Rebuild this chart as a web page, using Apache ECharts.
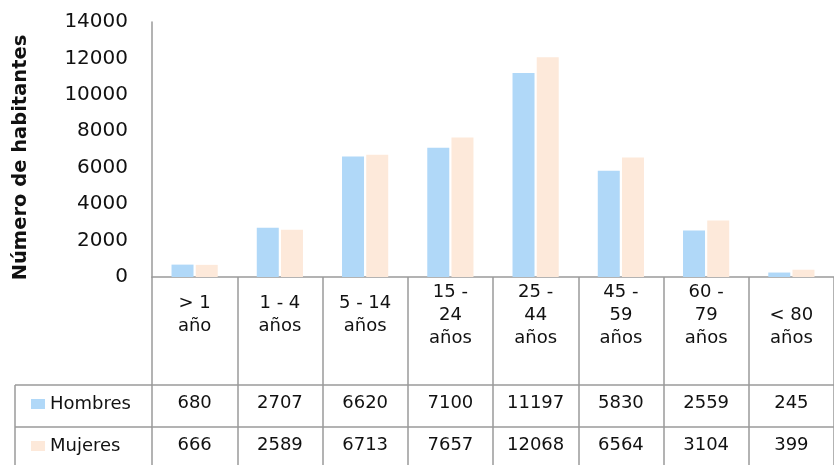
<!DOCTYPE html>
<html>
<head>
<meta charset="utf-8">
<style>
  html, body { margin: 0; padding: 0; background: #fff; }
  #chart { width: 834px; height: 465px; }
</style>
<script src="https://cdn.jsdelivr.net/npm/echarts@6/dist/echarts.min.js"></script>
</head>
<body>
<div id="chart"></div>
<script>
// grupos de edad (cabecera de la tabla)
var categories = ["> 1\naño", "1 - 4\naños", "5 - 14\naños", "15 -\n24\naños", "25 -\n44\naños", "45 -\n59\naños", "60 -\n79\naños", "< 80\naños"];
var hombres = [680, 2707, 6620, 7100, 11197, 5830, 2559, 245];
var mujeres = [666, 2589, 6713, 7657, 12068, 6564, 3104, 399];
var yTicks = [0, 2000, 4000, 6000, 8000, 10000, 12000, 14000];

var font = "DejaVu Sans";
var lineColor = "#9a9a9a";
var textColor = "#111";

var myChart = echarts.init(document.getElementById("chart"));
myChart.setOption({
  animation: false,
  grid: {
    left: 152,
    right: -8,
    top: 22,
    bottom: 188
  },
  legend: {
    orient: "vertical",
    left: 26,
    top: 389,
    itemWidth: 14,
    itemHeight: 10,
    itemGap: 22,
    icon: "rect",
    data: ["Hombres", "Mujeres"],
    textStyle: {
      color: textColor,
      fontFamily: font,
      fontSize: 18,
      lineHeight: 20
    }
  },
  xAxis: [
    {
      type: "category",
      data: categories,
      axisLine: { lineStyle: { color: lineColor, width: 1.5 } },
      axisTick: {
        show: true,
        length: 192, //líneas verticales de la tabla
        lineStyle: { color: lineColor, width: 1.5 }
      },
      axisLabel: {
        interval: 0,
        margin: 38,
        verticalAlign: "middle",
        lineHeight: 23,
        color: textColor,
        fontFamily: font,
        fontSize: 18,
        formatter: function(v, i) {
          return i === categories.length - 1 ? "\n" + v : v;
        }
      }
    },
    {
      type: "category",
      data: categories,
      position: "bottom",
      offset: 108,
      axisLine: { lineStyle: { color: lineColor, width: 1.5 } },
      axisTick: { show: false },
      axisLabel: {
        interval: 0,
        margin: 18,
        verticalAlign: "middle",
        color: textColor,
        fontFamily: font,
        fontSize: 18,
        formatter: function(v, i) {
          return String(hombres[i]);
        }
      }
    },
    {
      type: "category",
      data: categories,
      position: "bottom",
      offset: 150,
      axisLine: { lineStyle: { color: lineColor, width: 1.5 } },
      axisTick: { show: false },
      axisLabel: {
        interval: 0,
        margin: 18,
        verticalAlign: "middle",
        color: textColor,
        fontFamily: font,
        fontSize: 18,
        formatter: function(v, i) {
          return String(mujeres[i]);
        }
      }
    }
  ],
  yAxis: {
    type: "value",
    min: yTicks[0],
    max: yTicks[yTicks.length - 1],
    interval: 2000,
    name: "Número de habitantes",
    nameLocation: "middle",
    nameRotate: 90,
    nameGap: 121,
    nameTextStyle: {
      color: textColor,
      fontFamily: font,
      fontSize: 19.5,
      fontWeight: "bold",
      padding: [0, 16, 0, 0]
    },
    axisLine: { show: true, lineStyle: { color: lineColor, width: 1.5 } },
    axisTick: { show: false },
    splitLine: { show: false },
    axisLabel: {
      margin: 24,
      color: textColor,
      fontFamily: font,
      fontSize: 20,
      formatter: function(v) {
        return String(v);
      }
    }
  },
  series: [
    {
      name: "Hombres",
      type: "bar",
      xAxisIndex: 0,
      data: hombres,
      barWidth: 22,
      barGap: "10%",
      itemStyle: { color: "#b0d8f8" }
    },
    {
      name: "Mujeres",
      type: "bar",
      xAxisIndex: 0,
      data: mujeres,
      barWidth: 22,
      barGap: "10%",
      itemStyle: { color: "#fde9da" }
    }
  ],
  graphic: [
    // parte izquierda de la tabla (cabecera de filas)
    { type: "line", shape: { x1: 15, y1: 385, x2: 152, y2: 385 }, style: { stroke: lineColor, lineWidth: 1.5 } },
    { type: "line", shape: { x1: 15, y1: 427, x2: 152, y2: 427 }, style: { stroke: lineColor, lineWidth: 1.5 } },
    { type: "line", shape: { x1: 15, y1: 385, x2: 15, y2: 470 }, style: { stroke: lineColor, lineWidth: 1.5 } }
  ]
});
</script>
</body>
</html>
